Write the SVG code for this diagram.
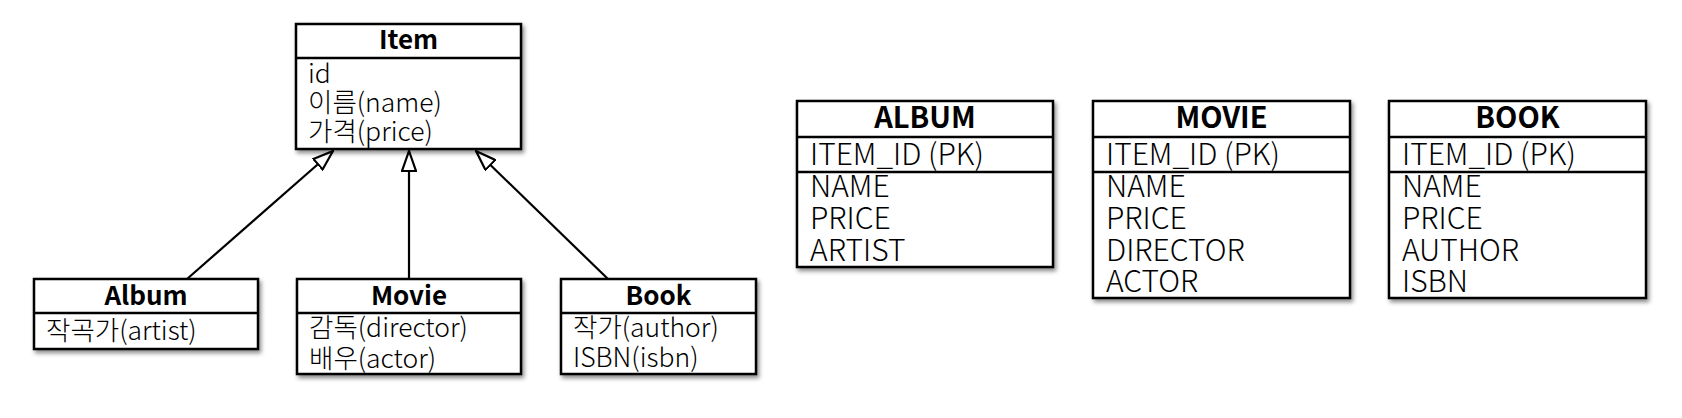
<svg xmlns="http://www.w3.org/2000/svg" width="1682" height="418" viewBox="0 0 1682 418">
  <style>
    .box { fill: #ffffff; stroke: #000000; stroke-width: 2.5; filter: url(#shadow); }
    .sep { stroke: #000000; stroke-width: 2.5; }
    .conn { stroke: #000000; stroke-width: 2.2; fill: none; marker-end: url(#hollow); }
    text { font-family: "Noto Sans CJK KR", "Noto Sans", "Liberation Sans", sans-serif; fill: #000000; }
    .uh { font-size: 26px; font-weight: bold; text-anchor: middle; }
    .ua { font-size: 26.5px; font-weight: 300; }
    .eh { font-size: 29px; font-weight: bold; text-anchor: middle; }
    .ea { font-size: 30px; font-weight: 300; }
  </style>
  <defs>
    <filter id="shadow" x="-10%" y="-10%" width="125%" height="130%">
      <feDropShadow dx="2" dy="3" stdDeviation="2" flood-color="#000000" flood-opacity="0.45"/>
    </filter>
    <marker id="hollow" viewBox="0 0 22 16" refX="21" refY="8" markerWidth="22" markerHeight="16" markerUnits="userSpaceOnUse" orient="auto">
      <path d="M1,1 L21,8 L1,15 Z" fill="#ffffff" stroke="#000000" stroke-width="2.2" stroke-linejoin="miter"/>
    </marker>
  </defs>
  <rect width="1682" height="418" fill="#ffffff"/>

  <g id="connectors">
    <line class="conn" x1="187" y1="279" x2="333" y2="151"/>
    <line class="conn" x1="409" y1="279" x2="409" y2="151"/>
    <line class="conn" x1="608" y1="279" x2="476" y2="151"/>
  </g>

  <g id="item">
    <rect class="box" x="296" y="24" width="225" height="125"/>
    <line class="sep" x1="296" y1="58" x2="521" y2="58"/>
    <text class="uh" x="408.5" y="49">Item</text>
    <text class="ua" x="308" y="83">id</text>
    <text class="ua" x="308" y="112">이름(name)</text>
    <text class="ua" x="308" y="141">가격(price)</text>
  </g>

  <g id="album">
    <rect class="box" x="34" y="279" width="224" height="70"/>
    <line class="sep" x1="34" y1="313" x2="258" y2="313"/>
    <text class="uh" x="146" y="305">Album</text>
    <text class="ua" x="46" y="340">작곡가(artist)</text>
  </g>

  <g id="movie">
    <rect class="box" x="297" y="279" width="224" height="95"/>
    <line class="sep" x1="297" y1="313" x2="521" y2="313"/>
    <text class="uh" x="409" y="305">Movie</text>
    <text class="ua" x="309" y="337">감독(director)</text>
    <text class="ua" x="309" y="368">배우(actor)</text>
  </g>

  <g id="book">
    <rect class="box" x="561" y="279" width="195" height="95"/>
    <line class="sep" x1="561" y1="313" x2="756" y2="313"/>
    <text class="uh" x="658.5" y="305">Book</text>
    <text class="ua" x="573" y="337">작가(author)</text>
    <text class="ua" x="573" y="367">ISBN(isbn)</text>
  </g>

  <g id="album-table">
    <rect class="box" x="797" y="101" width="256" height="166"/>
    <line class="sep" x1="797" y1="137" x2="1053" y2="137"/>
    <line class="sep" x1="797" y1="172" x2="1053" y2="172"/>
    <text class="eh" x="925" y="128">ALBUM</text>
    <text class="ea" x="810" y="165">ITEM_ID (PK)</text>
    <text class="ea" x="810" y="197">NAME</text>
    <text class="ea" x="810" y="229">PRICE</text>
    <text class="ea" x="810" y="261">ARTIST</text>
  </g>

  <g id="movie-table">
    <rect class="box" x="1093" y="101" width="257" height="197"/>
    <line class="sep" x1="1093" y1="137" x2="1350" y2="137"/>
    <line class="sep" x1="1093" y1="172" x2="1350" y2="172"/>
    <text class="eh" x="1221.5" y="128">MOVIE</text>
    <text class="ea" x="1106" y="165">ITEM_ID (PK)</text>
    <text class="ea" x="1106" y="197">NAME</text>
    <text class="ea" x="1106" y="229">PRICE</text>
    <text class="ea" x="1106" y="261">DIRECTOR</text>
    <text class="ea" x="1106" y="292">ACTOR</text>
  </g>

  <g id="book-table">
    <rect class="box" x="1389" y="101" width="257" height="197"/>
    <line class="sep" x1="1389" y1="137" x2="1646" y2="137"/>
    <line class="sep" x1="1389" y1="172" x2="1646" y2="172"/>
    <text class="eh" x="1517.5" y="128">BOOK</text>
    <text class="ea" x="1402" y="165">ITEM_ID (PK)</text>
    <text class="ea" x="1402" y="197">NAME</text>
    <text class="ea" x="1402" y="229">PRICE</text>
    <text class="ea" x="1402" y="261">AUTHOR</text>
    <text class="ea" x="1402" y="292">ISBN</text>
  </g>
</svg>
